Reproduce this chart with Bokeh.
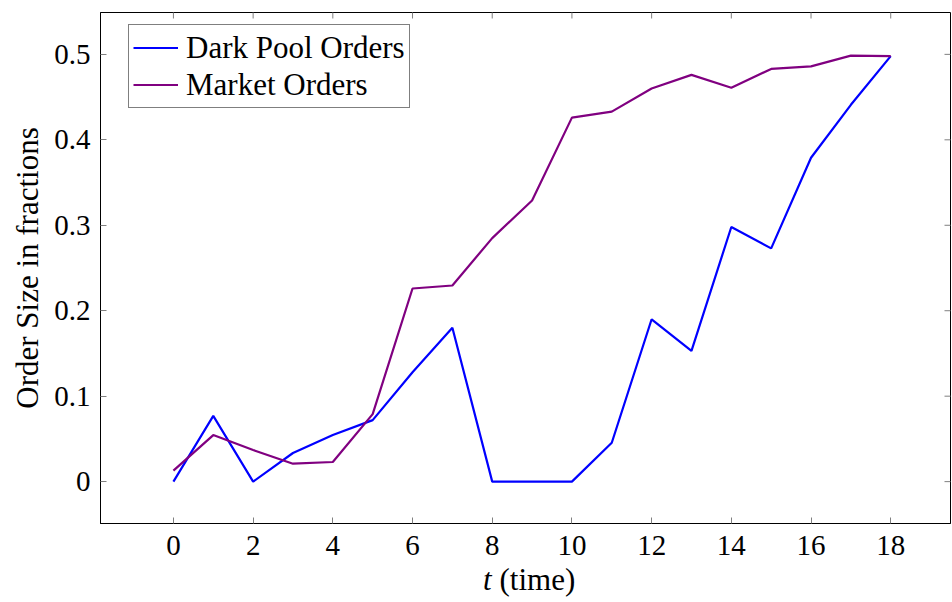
import math
from bokeh.plotting import figure
from bokeh.layouts import column
from bokeh.models import FixedTicker, LinearAxis, Legend, LegendItem, Range1d
from bokeh.core.properties import value
from bokeh.embed import file_html
from bokeh.resources import INLINE

t = list(range(19))
dark_pool = [0.0, 0.077, 0.0, 0.0335, 0.0545, 0.072, 0.128, 0.18, 0.0, 0.0, 0.0,
             0.0455, 0.19, 0.153, 0.298, 0.273, 0.379, 0.441, 0.498]
market = [0.0128, 0.0545, 0.037, 0.021, 0.023, 0.079, 0.226, 0.2295, 0.285, 0.329,
          0.426, 0.433, 0.460, 0.476, 0.461, 0.483, 0.486, 0.4986, 0.498]
x_ticks = [0, 2, 4, 6, 8, 10, 12, 14, 16, 18]
y_ticks = [0, 0.1, 0.2, 0.3, 0.4, 0.5]
y_labels = {0: "0", 0.1: "0.1", 0.2: "0.2", 0.3: "0.3", 0.4: "0.4", 0.5: "0.5"}
x_title_var = "t"
x_title_rest = "(time)"
y_title = "Order Size in fractions"

FONT = "Liberation Serif"
FS = "29px"
FS_BIG = "31px"
X0, X1 = -1.83, 19.5
Y0, Y1 = -0.049, 0.549
TICK_COLOR = "#7f7f7f"

p = figure(frame_width=850, frame_height=511, output_backend="svg", toolbar_location=None,
           x_range=Range1d(X0, X1), y_range=Range1d(Y0, Y1),
           min_border_left=100, min_border_right=2, min_border_top=12, min_border_bottom=40,
           x_axis_location=None, y_axis_location=None)
p.grid.visible = False
p.outline_line_color = "black"
p.outline_line_width = 1


def style(ax):
    ax.minor_tick_line_color = None
    ax.major_tick_in = 6
    ax.major_tick_out = 0
    ax.major_tick_line_color = TICK_COLOR
    ax.axis_line_color = "black"
    ax.major_label_text_font = FONT
    ax.major_label_text_font_size = FS
    ax.major_label_text_color = "black"
    ax.axis_label_text_font = FONT
    ax.axis_label_text_font_size = FS_BIG
    ax.axis_label_text_font_style = "normal"
    ax.axis_label_text_color = "black"


xb = LinearAxis(ticker=FixedTicker(ticks=x_ticks))
style(xb)
xb.major_label_standoff = 12
p.add_layout(xb, "below")

yl = LinearAxis(ticker=FixedTicker(ticks=y_ticks), axis_label=y_title)
style(yl)
yl.major_label_overrides = y_labels
yl.major_label_standoff = 10
yl.axis_label_standoff = 6
p.add_layout(yl, "left")

# mirrored inward ticks on top and right (half of each dash is clipped by the frame)
p.scatter(x=x_ticks, y=[Y1] * len(x_ticks), marker="dash", angle=math.pi / 2, size=12,
          line_color=TICK_COLOR, line_width=1)
p.scatter(x=[X1] * len(y_ticks), y=y_ticks, marker="dash", size=12,
          line_color=TICK_COLOR, line_width=1)

r1 = p.line(t, dark_pool, line_color="#0000ff", line_width=2.2)
r2 = p.line(t, market, line_color="#800080", line_width=2.2)

legend = Legend(items=[LegendItem(label="Dark Pool Orders", renderers=[r1]),
                       LegendItem(label="Market Orders", renderers=[r2])],
                location=(28, 415))
legend.label_text_font = FONT
legend.label_text_font_size = FS_BIG
legend.label_text_color = "black"
legend.label_height = 37
legend.glyph_height = 37
legend.glyph_width = 45
legend.label_standoff = 8
legend.padding = 4
legend.spacing = 0
legend.margin = 0
legend.border_line_color = "black"
legend.border_line_width = 1
p.add_layout(legend, "center")

# x-axis title with italic variable, drawn in a strip below the plot
q = figure(frame_width=850, height=40, output_backend="svg", toolbar_location=None,
           x_range=p.x_range, y_range=Range1d(0, 1),
           min_border_left=100, min_border_right=2, min_border_top=0, min_border_bottom=0,
           x_axis_location=None, y_axis_location=None)
q.grid.visible = False
q.outline_line_color = None
xc = (X0 + X1) / 2
q.text(x=[xc], y=[0.5], text=[x_title_var], text_font=value(FONT), text_font_size=FS_BIG,
       text_font_style="italic", text_align="right", text_baseline="middle",
       x_offset=-34, y_offset=-4)
q.text(x=[xc], y=[0.5], text=[x_title_rest], text_font=value(FONT), text_font_size=FS_BIG,
       text_align="left", text_baseline="middle", x_offset=-26, y_offset=-4)

layout = column(p, q, spacing=0)
open("out.html", "w").write(file_html(layout, INLINE))
